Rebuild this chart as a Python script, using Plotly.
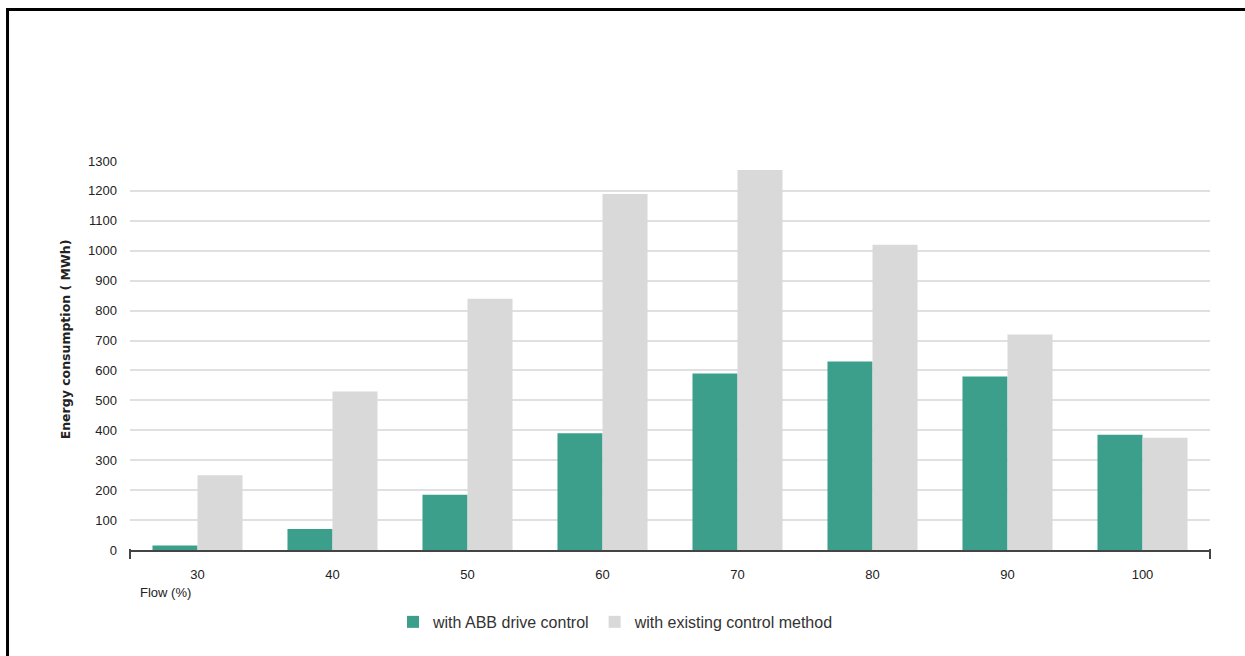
import plotly.graph_objects as go

# Flow levels (% of nominal) on the category axis
flow = ["30", "40", "50", "60", "70", "80", "90", "100"]

# Annual energy consumption, MWh
abb_drive = [15, 70, 185, 390, 590, 630, 580, 385]
existing_method = [250, 530, 840, 1190, 1270, 1020, 720, 375]

y_ticks = list(range(0, 1301, 100))

GREEN = "#3b9f8b"
GREY = "#d9d9d9"
TEXT = "#222222"
FONT = "Liberation Sans, Arial, sans-serif"

fig = go.Figure()
fig.add_trace(go.Bar(x=flow, y=abb_drive, name="with ABB drive control",
                     marker=dict(color=GREEN, line=dict(width=0))))
fig.add_trace(go.Bar(x=flow, y=existing_method, name="with existing control method",
                     marker=dict(color=GREY, line=dict(width=0))))

fig.update_layout(
    width=1245, height=656,
    margin=dict(l=130, r=35, t=161, b=106),
    paper_bgcolor="white", plot_bgcolor="white",
    barmode="group", bargap=0.333, bargroupgap=0,
    font=dict(family=FONT, size=13, color=TEXT),
    showlegend=True,
    legend=dict(orientation="h", x=0.450, xanchor="center", y=-0.185, yanchor="middle",
                font=dict(size=16, color="#333333"), itemwidth=30,
                traceorder="normal", bgcolor="rgba(0,0,0,0)"),
    xaxis=dict(type="category", showgrid=False, zeroline=False,
               showline=True, linecolor="#444444", linewidth=2,
               ticks="outside", ticklen=11, tickcolor="rgba(0,0,0,0)",
               tickfont=dict(size=13, color=TEXT)),
    yaxis=dict(range=[0, 1300], tickvals=y_ticks, showgrid=True,
               gridcolor="#e0e0e0", gridwidth=2, zeroline=False, showline=False,
               ticklabelstandoff=12, tickfont=dict(size=13, color=TEXT)),
    shapes=[
        # end ticks of the category axis
        dict(type="line", xref="paper", yref="paper", x0=0, x1=0, y0=1, y1=-9,
             ysizemode="pixel", yanchor=0, line=dict(color="#444444", width=2)),
        dict(type="line", xref="paper", yref="paper", x0=1, x1=1, y0=1, y1=-9,
             ysizemode="pixel", yanchor=0, line=dict(color="#444444", width=2)),
        # page frame
        dict(type="rect", xref="paper", yref="paper",
             x0=-0.1134, x1=1.2, y0=-0.5, y1=1.3895,
             line=dict(color="black", width=3), fillcolor="rgba(0,0,0,0)"),
    ],
    annotations=[
        dict(text="<b>Energy consumption ( MWh)</b>", xref="paper", yref="paper",
             x=-0.060, y=0.542, xanchor="center", yanchor="middle", textangle=-90,
             showarrow=False,
             font=dict(family="DejaVu Sans, sans-serif", size=12.5, color=TEXT)),
        dict(text="Flow (%)", xref="paper", yref="paper", x=0.007, y=-0.11,
             xanchor="left", yanchor="middle", showarrow=False,
             font=dict(size=13, color=TEXT)),
    ],
)

fig.write_html("out.html")
